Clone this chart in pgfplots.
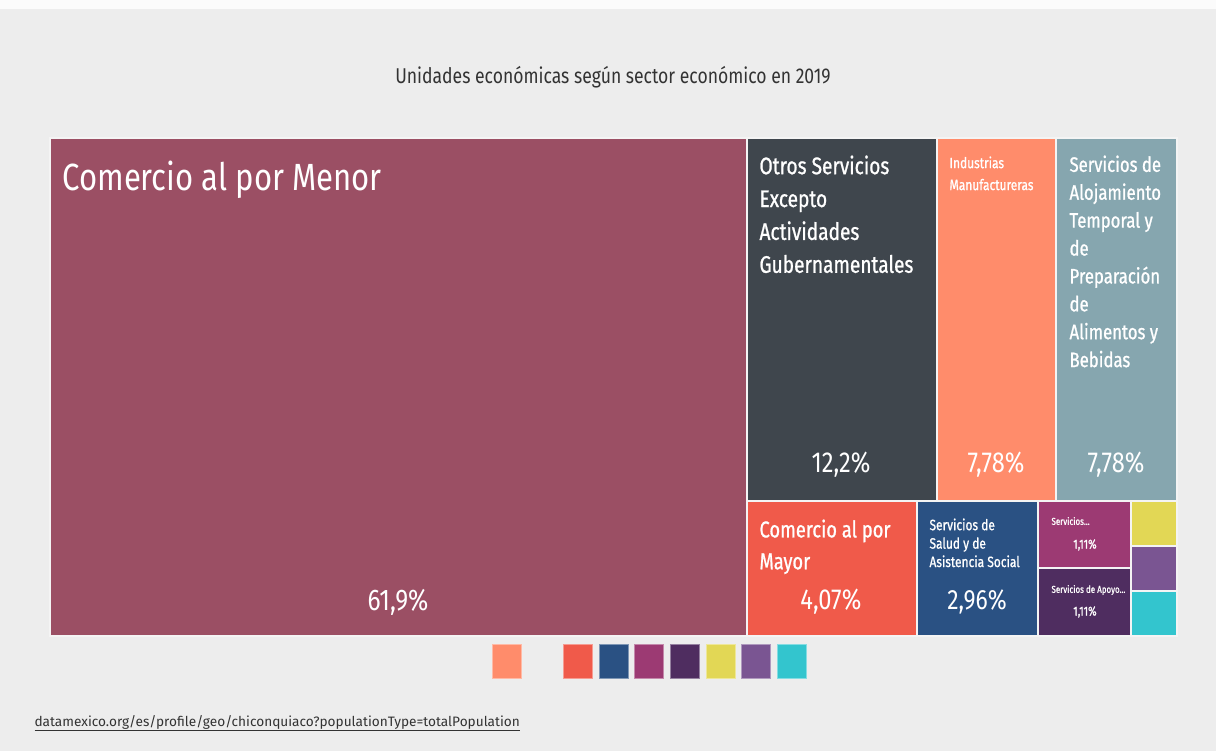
\documentclass[border=0pt]{standalone}
\usepackage{pgfplots}
\pgfplotsset{compat=1.18}
\usepackage{fontspec}
\setmainfont{Fira Sans}[FakeStretch=0.82]
\newfontfamily\medfont{Fira Sans}[FakeStretch=0.80, FakeBold=0.9]
\newfontfamily\plainfont{Fira Sans}
\definecolor{bg}{HTML}{EDEDED}
\definecolor{cmenor}{HTML}{9B4F64}
\definecolor{cotros}{HTML}{3F464D}
\definecolor{cind}{HTML}{FF8C6B}
\definecolor{caloj}{HTML}{86A6AF}
\definecolor{cmayor}{HTML}{F05A4A}
\definecolor{csalud}{HTML}{2A5183}
\definecolor{cmag}{HTML}{9C3A73}
\definecolor{capoyo}{HTML}{4F2D60}
\definecolor{cyel}{HTML}{E2D755}
\definecolor{cpur}{HTML}{7A5592}
\definecolor{ccyan}{HTML}{33C5CE}
\definecolor{ttl}{HTML}{333333}
\newcommand{\rect}[5]{\addplot[fill=#5, draw=bg!60!white, line width=1.2pt] coordinates {(#1,#2) (#3,#2) (#3,#4) (#1,#4)} -- cycle;}
\newcommand{\sq}[5]{\addplot[fill=#5, draw=#5!60!white, line width=0.8pt] coordinates {(#1,#2) (#3,#2) (#3,#4) (#1,#4)} -- cycle;}
\begin{document}
\begin{tikzpicture}
\begin{axis}[
  scale only axis, width=1216bp, height=751bp,
  xmin=0, xmax=1216, ymin=0, ymax=751, y dir=reverse,
  hide axis, clip=false,
]
% background
\addplot[fill=bg, draw=none] coordinates {(0,0) (1216,0) (1216,751) (0,751)} -- cycle;
\addplot[fill=white!97!gray, draw=none] coordinates {(0,0) (1216,0) (1216,9) (0,9)} -- cycle;
% treemap tiles
\rect{50}{138}{747}{636}{cmenor}
\rect{747}{138}{937}{501}{cotros}
\rect{937}{138}{1056}{501}{cind}
\rect{1056}{138}{1177}{501}{caloj}
\rect{747}{501}{917}{636}{cmayor}
\rect{917}{501}{1038}{636}{csalud}
\rect{1038}{501}{1131}{568}{cmag}
\rect{1038}{568}{1131}{636}{capoyo}
\rect{1131}{501}{1177}{546}{cyel}
\rect{1131}{546}{1177}{591}{cpur}
\rect{1131}{591}{1177}{636}{ccyan}
% legend squares
\sq{492}{644}{521}{678}{cind}
\sq{563}{644}{592}{678}{cmayor}
\sq{599}{644}{628}{678}{csalud}
\sq{634}{644}{663}{678}{cmag}
\sq{670}{644}{699}{678}{capoyo}
\sq{706}{644}{735}{678}{cyel}
\sq{741}{644}{770}{678}{cpur}
\sq{777}{644}{806}{678}{ccyan}
% texts
\node[text=ttl, font=\fontsize{21.5}{24}\selectfont] at (axis cs:613,77) {Unidades económicas según sector económico en 2019};
\node[text=white, anchor=base west, font=\fontsize{38}{44}\selectfont] at (axis cs:59,190) {Comercio al por Menor};
\node[text=white, font=\fontsize{30}{36}\selectfont] at (axis cs:398,602) {61,9\%};
\node[text=white, anchor=north west, align=left, font=\medfont\fontsize{24}{33}\selectfont] at (axis cs:756,152) {Otros Servicios\\Excepto\\Actividades\\Gubernamentales};
\node[text=white, font=\fontsize{29}{34}\selectfont] at (axis cs:841,465) {12,2\%};
\node[text=white, anchor=north west, align=left, font=\medfont\fontsize{15}{22}\selectfont] at (axis cs:946,153) {Industrias\\Manufactureras};
\node[text=white, font=\fontsize{29}{34}\selectfont] at (axis cs:996,465) {7,78\%};
\node[text=white, anchor=north west, align=left, font=\medfont\fontsize{21}{28}\selectfont] at (axis cs:1066,152) {Servicios de\\Alojamiento\\Temporal y\\de\\Preparación\\de\\Alimentos y\\Bebidas};
\node[text=white, font=\fontsize{29}{34}\selectfont] at (axis cs:1116,465) {7,78\%};
\node[text=white, anchor=north west, align=left, font=\medfont\fontsize{23}{32}\selectfont] at (axis cs:756,516) {Comercio al por\\Mayor};
\node[text=white, font=\fontsize{29}{34}\selectfont] at (axis cs:831,602) {4,07\%};
\node[text=white, anchor=north west, align=left, font=\medfont\fontsize{15}{18.5}\selectfont] at (axis cs:926,515) {Servicios de\\Salud y de\\Asistencia Social};
\node[text=white, font=\fontsize{28}{34}\selectfont] at (axis cs:977,602) {2,96\%};
\node[text=white, anchor=west, font=\medfont\fontsize{10}{12}\selectfont] at (axis cs:1048,521) {Servicios...};
\node[text=white, font=\medfont\fontsize{13}{15}\selectfont] at (axis cs:1085,545) {1,11\%};
\node[text=white, anchor=west, font=\medfont\fontsize{10}{12}\selectfont] at (axis cs:1048,590) {Servicios de Apoyo...};
\node[text=white, font=\medfont\fontsize{13}{15}\selectfont] at (axis cs:1085,612) {1,11\%};
\node[text=ttl, anchor=base west, font=\plainfont\fontsize{13.7}{16}\selectfont] at (axis cs:31,726) {\underline{datamexico.org/es/profile/geo/chiconquiaco?populationType=totalPopulation}};
\end{axis}
\end{tikzpicture}
\end{document}
